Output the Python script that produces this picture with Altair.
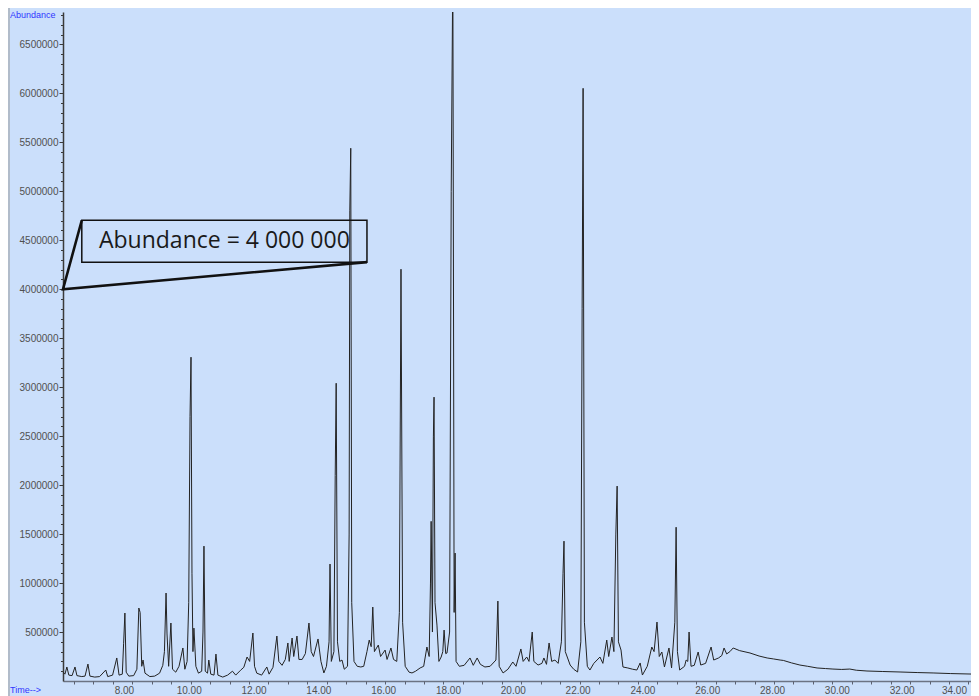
import altair as alt
import pandas as pd

# ---- data: (retention time [min], abundance [thousands]) ----
TRACE_06_10 = [
    (6.12, 90), (6.18, 70), (6.24, 143), (6.30, 60), (6.40, 55), (6.49, 143), (6.55, 55),
    (6.70, 45), (6.80, 50), (6.89, 173), (6.95, 50), (7.10, 40), (7.25, 45), (7.44, 112),
    (7.50, 45), (7.65, 60), (7.78, 235), (7.85, 60), (7.95, 70), (7.99, 380), (8.03, 694),
    (8.07, 90), (8.15, 50), (8.30, 55), (8.40, 120), (8.46, 745), (8.50, 700), (8.55, 150),
    (8.59, 214), (8.65, 80), (8.80, 45), (8.95, 50), (9.10, 80), (9.20, 160), (9.25, 300),
    (9.30, 898), (9.33, 480), (9.38, 150), (9.45, 592), (9.50, 120), (9.60, 90), (9.70, 150),
    (9.82, 337), (9.88, 120), (9.95, 200),
]
TRACE_10_14 = [
    (10.00, 800), (10.04, 2700), (10.07, 3306), (10.10, 1100), (10.13, 300), (10.16, 540),
    (10.22, 150), (10.30, 80), (10.40, 100), (10.44, 500), (10.47, 1377), (10.51, 100),
    (10.58, 80), (10.62, 214), (10.68, 70), (10.78, 60), (10.84, 275), (10.90, 60),
    (11.05, 40), (11.20, 60), (11.35, 100), (11.45, 60), (11.60, 110), (11.70, 140),
    (11.80, 245), (11.88, 200), (11.98, 490), (12.03, 150), (12.10, 80), (12.25, 60),
    (12.41, 143), (12.48, 70), (12.60, 140), (12.72, 459), (12.78, 200), (12.88, 160),
    (12.98, 220), (13.06, 388), (13.10, 200), (13.19, 439), (13.24, 250), (13.34, 459),
    (13.40, 220), (13.50, 220), (13.60, 280), (13.71, 592), (13.78, 300), (13.85, 250),
    (13.99, 429),
]
TRACE_14_18 = [
    (14.08, 200), (14.17, 82), (14.25, 150), (14.33, 400), (14.36, 1194), (14.40, 200),
    (14.48, 300), (14.52, 2100), (14.55, 3040), (14.59, 400), (14.66, 200), (14.73, 214),
    (14.80, 120), (14.90, 150), (14.95, 1500), (14.97, 4800), (15.00, 5439), (15.03, 800),
    (15.10, 200), (15.20, 150), (15.31, 143), (15.40, 150), (15.50, 300), (15.57, 418),
    (15.63, 350), (15.68, 755), (15.73, 300), (15.85, 367), (15.92, 250), (16.06, 316),
    (16.12, 220), (16.24, 337), (16.32, 220), (16.42, 200), (16.50, 700), (16.55, 4204),
    (16.60, 600), (16.68, 150), (16.80, 90), (16.89, 82), (17.00, 100), (17.14, 133),
    (17.25, 150), (17.35, 347), (17.42, 250), (17.46, 1000), (17.48, 1630), (17.52, 500),
    (17.55, 2500), (17.57, 2898), (17.60, 800), (17.66, 571), (17.72, 200), (17.79, 245),
    (17.84, 300), (17.88, 520), (17.93, 280), (17.97, 286),
]
TRACE_18_22 = [
    (18.05, 500), (18.10, 5000), (18.15, 7300), (18.19, 700), (18.22, 1306), (18.25, 200),
    (18.35, 150), (18.50, 160), (18.68, 235), (18.78, 160), (18.90, 235), (19.00, 170),
    (19.14, 143), (19.30, 150), (19.48, 214), (19.51, 500), (19.54, 816), (19.58, 150),
    (19.70, 82), (19.85, 120), (20.00, 194), (20.10, 150), (20.25, 327), (20.32, 200),
    (20.43, 245), (20.50, 200), (20.60, 500), (20.65, 200), (20.78, 163), (20.90, 180),
    (20.96, 235), (21.04, 170), (21.12, 388), (21.20, 200), (21.30, 214), (21.40, 180),
    (21.50, 400), (21.55, 1100), (21.58, 1428), (21.62, 300), (21.77, 163), (21.88, 120),
]
TRACE_22_26 = [
    (22.00, 92), (22.10, 400), (22.14, 3800), (22.17, 6051), (22.21, 600), (22.30, 150),
    (22.38, 112), (22.50, 180), (22.69, 245), (22.78, 180), (22.90, 418), (22.96, 250),
    (23.06, 449), (23.12, 300), (23.18, 1500), (23.22, 1990), (23.26, 400), (23.34, 316),
    (23.40, 143), (23.55, 133), (23.70, 120), (23.83, 112), (23.93, 184), (24.00, 61),
    (24.15, 150), (24.29, 347), (24.36, 300), (24.45, 602), (24.52, 250), (24.60, 296),
    (24.68, 143), (24.82, 337), (24.90, 133), (25.00, 600), (25.04, 1570), (25.08, 300),
    (25.15, 112), (25.30, 150), (25.35, 214), (25.40, 200), (25.44, 500), (25.50, 150),
    (25.60, 160), (25.72, 296), (25.80, 163), (25.95, 180),
]
TRACE_26_34 = [
    (26.12, 347), (26.20, 214), (26.35, 235), (26.45, 260), (26.52, 337), (26.60, 276),
    (26.70, 300), (26.80, 337), (27.00, 310), (27.32, 286), (27.60, 255), (27.85, 235),
    (28.05, 225), (28.25, 214), (28.35, 210), (28.60, 185), (28.86, 163), (29.10, 150),
    (29.39, 133), (29.65, 127), (29.88, 122), (30.15, 118), (30.40, 122), (30.60, 110),
    (30.93, 102), (31.40, 97), (31.95, 92), (32.50, 86), (32.97, 82), (33.50, 76),
    (34.14, 71),
]

Y_LABEL_VALUES = [500000, 1000000, 1500000, 2000000, 2500000, 3000000, 3500000,
                  4000000, 4500000, 5000000, 5500000, 6000000, 6500000]
Y_MINOR_VALUES = [100000 * i for i in range(1, 69)]
X_LABEL_VALUES = [8, 10, 12, 14, 16, 18, 20, 22, 24, 26, 28, 30, 32, 34]
X_TICK_VALUES = [round(6.46 + 0.6 * i, 2) for i in range(47)]

# annotation (data units)
BOX_X = [6.70, 15.50]
BOX_Y = [4276000, 4704000]
CALLOUT_X = [6.70, 6.12, 15.50]
CALLOUT_Y = [4704000, 4000000, 4276000]
NOTE_TEXT = "Abundance = 4 000 000"
NOTE_X = 11.10
NOTE_Y = 4490000

X_DOMAIN = [6.12, 34.14]
Y_DOMAIN = [0, 6830000]
W, H = 908, 669
BG = "#cbdffb"

rows = TRACE_06_10 + TRACE_10_14 + TRACE_14_18 + TRACE_18_22 + TRACE_22_26 + TRACE_26_34
df = pd.DataFrame({"rt": [r[0] for r in rows], "ab": [r[1] * 1000 for r in rows]})

xs = alt.Scale(domain=X_DOMAIN, nice=False, zero=False)
ys = alt.Scale(domain=Y_DOMAIN, nice=False, zero=False)

LABEL_FONT = "Liberation Sans"

trace = alt.Chart(df).mark_line(color="#232323", strokeWidth=1, clip=True).encode(
    x=alt.X("rt:Q", scale=xs, axis=alt.Axis(
        orient="bottom", values=X_LABEL_VALUES, format=".2f", ticks=False, title=None,
        grid=False, labelPadding=4, labelFontSize=10, labelColor="#505050",
        labelFont=LABEL_FONT, domainColor="#6b7383", domainWidth=1.5,
        labelFlush=6, labelOverlap=False)),
    y=alt.Y("ab:Q", scale=ys, axis=alt.Axis(
        orient="left", values=Y_LABEL_VALUES, format="d", tickSize=4, tickColor="#3a3a3a",
        tickWidth=1, title=None, grid=False, labelPadding=1, labelFontSize=10,
        labelColor="#505050", labelFont=LABEL_FONT, domainColor="#3a3a3a",
        domainWidth=1.5, labelOverlap=False, labelFlush=False)),
)

minor = alt.Chart(df).mark_point(opacity=0).encode(
    x=alt.X("rt:Q", scale=xs, axis=alt.Axis(
        orient="bottom", values=X_TICK_VALUES, labels=False, domain=False, tickSize=3,
        tickColor="#5a6070", tickWidth=1, title=None, grid=False)),
    y=alt.Y("ab:Q", scale=ys, axis=alt.Axis(
        orient="left", values=Y_MINOR_VALUES, labels=False, domain=False, tickSize=2.5,
        tickColor="#3a3a3a", tickWidth=1, title=None, grid=False)),
)

box_df = pd.DataFrame({"x": [BOX_X[0]], "x2": [BOX_X[1]], "y": [BOX_Y[0]], "y2": [BOX_Y[1]]})
box = alt.Chart(box_df).mark_rect(fillOpacity=0, stroke="#111111", strokeWidth=1.5).encode(
    x=alt.X("x:Q", scale=xs, axis=None), x2="x2:Q",
    y=alt.Y("y:Q", scale=ys, axis=None), y2="y2:Q",
)

call_df = pd.DataFrame({"i": [0, 1, 2], "x": CALLOUT_X, "y": CALLOUT_Y})
callout = alt.Chart(call_df).mark_line(color="#111111", strokeWidth=2.6).encode(
    x=alt.X("x:Q", scale=xs, axis=None),
    y=alt.Y("y:Q", scale=ys, axis=None),
    order="i:Q",
)

note_df = pd.DataFrame({"x": [NOTE_X], "y": [NOTE_Y], "t": [NOTE_TEXT]})
note = alt.Chart(note_df).mark_text(
    font="Open Sans", fontSize=23, color="#1a1a1a", align="center", baseline="middle"
).encode(
    x=alt.X("x:Q", scale=xs, axis=None),
    y=alt.Y("y:Q", scale=ys, axis=None),
    text="t:N",
)

abund_lbl = alt.Chart(pd.DataFrame({"t": ["Abundance"]})).mark_text(
    font=LABEL_FONT, fontSize=9, color="#3036ff", align="left", baseline="middle"
).encode(x=alt.value(-53), y=alt.value(3), text="t:N")

time_lbl = alt.Chart(pd.DataFrame({"t": ["Time-->"]})).mark_text(
    font=LABEL_FONT, fontSize=9, color="#3036ff", align="left", baseline="middle"
).encode(x=alt.value(-53), y=alt.value(H + 9), text="t:N")

border = alt.Chart(pd.DataFrame({"a": [0]})).mark_rule(color="#a8b0ba", strokeWidth=1.5).encode(
    x=alt.value(-54), y=alt.value(-4), y2=alt.value(H + 16)
)

chart = alt.layer(trace, minor, box, callout, note, abund_lbl, time_lbl, border).resolve_axis(
    x="independent", y="independent"
).properties(
    width=W, height=H, background=BG,
    padding={"left": 55, "top": 4, "right": 0, "bottom": 16},
    autosize=alt.AutoSizeParams(type="none"),
).configure_view(stroke=None)

chart.save("out.html", embed_options={"renderer": "svg", "actions": False})
